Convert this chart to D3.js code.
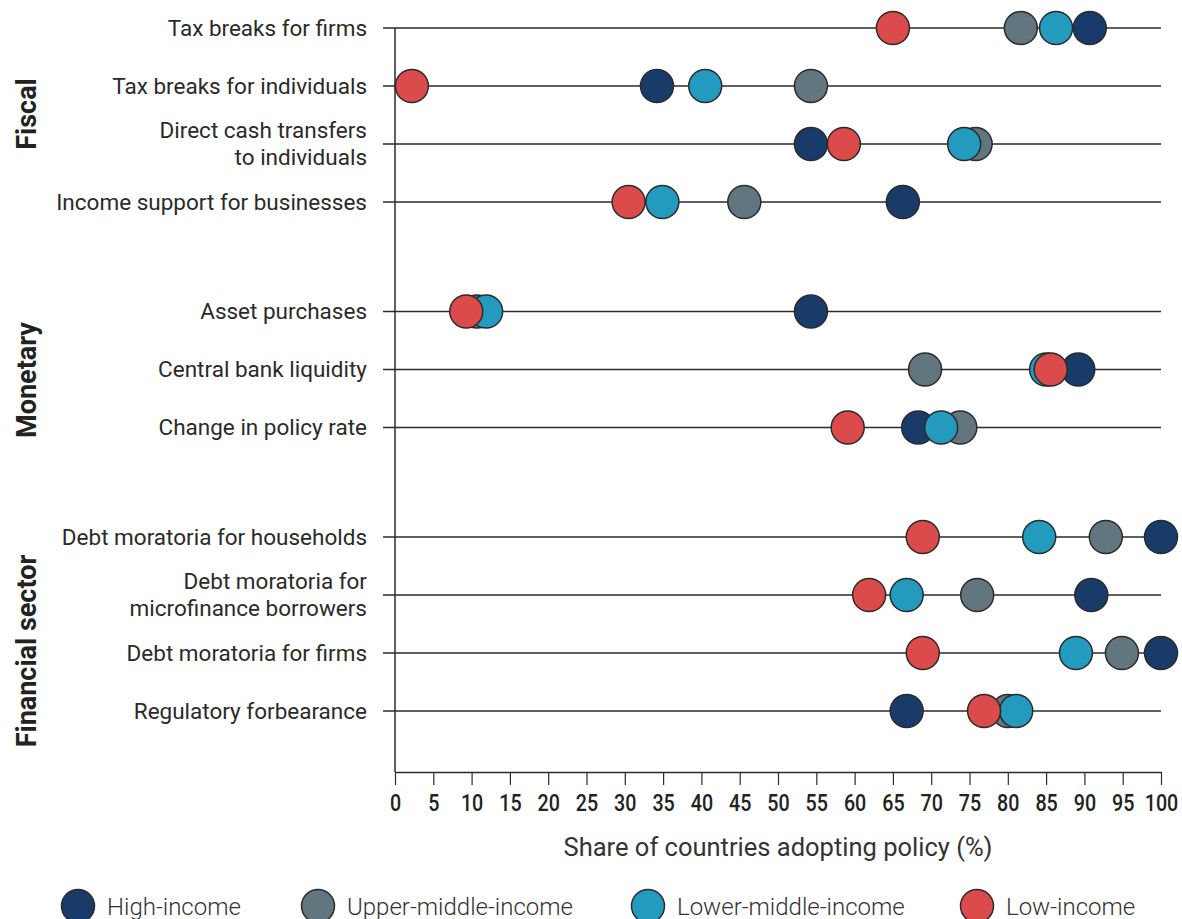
<!DOCTYPE html>
<html lang="en">
<head>
    <meta charset="UTF-8">
    <title>Policy adoption by income group</title>
    <script src="https://d3js.org/d3.v7.min.js"></script>
    <style>
        body {
            margin: 0;
            padding: 0;
            background: #fff;
            font-family: Roboto, "Noto Sans", Arial, sans-serif;
        }
        .row-line, .axis-line {
            stroke: #2b2b2b;
            stroke-width: 1.5px;
        }
        .cat-label {
            font-size: 22.5px;
            fill: #2a2a2a;
        }
        .group-label {
            font-size: 27px;
            font-weight: bold;
            fill: #222;
        }
        .dot {
            stroke: #2b2b2b;
            stroke-width: 1.5px;
        }
        .legend text {
            font-size: 24px;
            font-weight: 300;
            fill: #333;
        }
    </style>
</head>
<body>
    <svg id="chart"></svg>

    <script>
        // categories (top to bottom) and the group each one belongs to
        const categories = [
            "Tax breaks for firms",
            "Tax breaks for individuals",
            "Direct cash transfers\nto individuals",
            "Income support for businesses",
            "Asset purchases",
            "Central bank liquidity",
            "Change in policy rate",
            "Debt moratoria for households",
            "Debt moratoria for\nmicrofinance borrowers",
            "Debt moratoria for firms",
            "Regulatory forbearance"
        ];
        const groups = ["Fiscal", "Monetary", "Financial sector"];
        const groupOf = [0, 0, 0, 0, 1, 1, 1, 2, 2, 2, 2];

        // share of countries adopting each policy (%)
        const series = ["High-income", "Upper-middle-income", "Lower-middle-income", "Low-income"];
        const highIncome  = [90.7, 34.2, 54.3, 66.3, 54.3, 89.2, 68.3, 100, 90.9, 100, 66.8];
        const upperMiddle = [81.7, 54.3, 75.8, 45.6, 10.7, 69.2, 73.8, 92.8, 76.0, 94.9, 80.0];
        const lowerMiddle = [86.3, 40.5, 74.3, 34.9, 11.9, 85.0, 71.3, 84.1, 66.8, 88.9, 81.1];
        const lowIncome   = [65.0, 2.2, 58.6, 30.5, 9.3, 85.6, 59.1, 68.9, 61.9, 68.9, 76.9];

        const xTickValues = [0, 5, 10, 15, 20, 25, 30, 35, 40, 45, 50, 55, 60, 65, 70, 75, 80, 85, 90, 95, 100];

        const colors = {
            "High-income": "#183b6a",
            "Upper-middle-income": "#627680",
            "Lower-middle-income": "#239bbe",
            "Low-income": "#db4b4b"
        };
        const valuesBySeries = {
            "High-income": highIncome,
            "Upper-middle-income": upperMiddle,
            "Lower-middle-income": lowerMiddle,
            "Low-income": lowIncome
        };
        // drawing order so the overlaps stack like the original
        const drawOrder = ["Upper-middle-income", "High-income", "Lower-middle-income", "Low-income"];

        const width = 1182, height = 919;
        const svg = d3.select("#chart").attr("width", width).attr("height", height);

        const x = d3.scaleLinear().domain([0, 100]).range([395, 1161]);

        // rows are evenly spaced, with an extra gap between groups
        const rowStep = 58, groupGap = 51.5;
        const slot = categories.map((c, i) => i * rowStep + groupOf[i] * groupGap);
        const y = d3.scaleLinear().domain([0, d3.max(slot)]).range([28, 711]);
        const rowY = i => y(slot[i]);
        const axisY = 772;

        // row lines
        svg.selectAll(".row-line")
            .data(categories)
            .enter().append("line")
            .attr("class", "row-line")
            .attr("x1", x(0) - 12)
            .attr("x2", x(100))
            .attr("y1", (d, i) => rowY(i))
            .attr("y2", (d, i) => rowY(i));

        // y axis line
        svg.append("line")
            .attr("class", "axis-line")
            .attr("x1", x(0)).attr("x2", x(0))
            .attr("y1", rowY(0)).attr("y2", axisY);

        // x axis
        const xAxis = svg.append("g")
            .attr("transform", `translate(0,${axisY})`)
            .call(d3.axisBottom(x).tickValues(xTickValues).tickSize(13).tickSizeOuter(0).tickPadding(9));
        xAxis.select(".domain").attr("stroke", "#2b2b2b").attr("stroke-width", 1.5);
        xAxis.selectAll(".tick line").attr("stroke", "#2b2b2b").attr("stroke-width", 1.2);
        xAxis.selectAll(".tick text")
            .attr("fill", "#222")
            .style("font-family", "Roboto, sans-serif")
            .style("font-size", "24px")
            .style("font-weight", "500")
            .attr("transform", "scale(0.82,1)");

        svg.append("text")
            .attr("x", (x(0) + x(100)) / 2)
            .attr("y", 856)
            .attr("text-anchor", "middle")
            .style("font-size", "25.5px")
            .attr("fill", "#333")
            .text("Share of countries adopting policy (%)");

        // category labels (some are on two lines)
        const labels = svg.selectAll(".cat-label")
            .data(categories)
            .enter().append("text")
            .attr("class", "cat-label")
            .attr("text-anchor", "end")
            .attr("x", 367)
            .attr("y", (d, i) => rowY(i));
        labels.each(function(d) {
            const lines = d.split("\n");
            const t = d3.select(this);
            lines.forEach((line, k) => {
                t.append("tspan")
                    .attr("x", 367)
                    .attr("dy", k === 0 ? (0.35 - (lines.length - 1) * 0.6) + "em" : "1.2em")
                    .text(line);
            });
        });

        // group labels, rotated
        const groupCenters = [114, 380, 651];
        svg.selectAll(".group-label")
            .data(groups)
            .enter().append("text")
            .attr("class", "group-label")
            .attr("text-anchor", "middle")
            .attr("transform", (d, i) => `translate(36,${groupCenters[i]}) rotate(-90)`)
            .text(d => d);

        // dots
        drawOrder.forEach(s => {
            svg.append("g").selectAll("circle")
                .data(valuesBySeries[s])
                .enter().append("circle")
                .attr("class", "dot")
                .attr("cx", d => x(d))
                .attr("cy", (d, i) => rowY(i))
                .attr("r", 16.5)
                .attr("fill", colors[s]);
        });

        // legend
        const legendX = [78, 318, 648, 977];
        const legend = svg.append("g").attr("class", "legend");
        series.forEach((s, i) => {
            const g = legend.append("g").attr("transform", `translate(${legendX[i]},906)`);
            g.append("circle")
                .attr("class", "dot")
                .attr("r", 16.5)
                .attr("fill", colors[s]);
            g.append("text")
                .attr("x", 29)
                .attr("dy", "0.36em")
                .text(s);
        });
    </script>
</body>
</html>
